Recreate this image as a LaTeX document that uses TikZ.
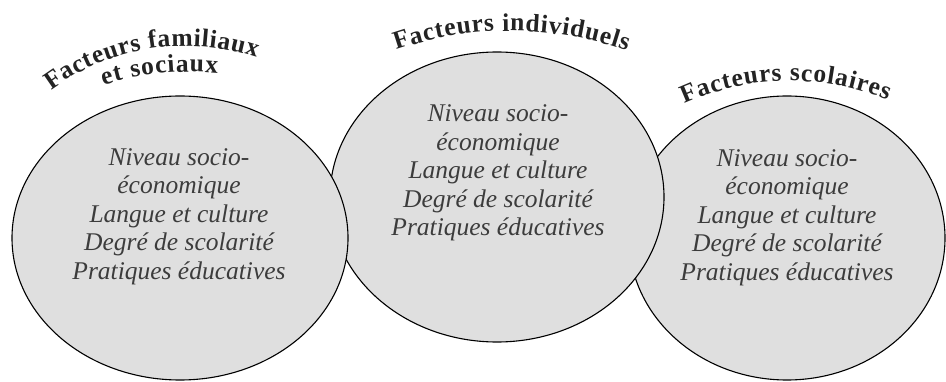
\documentclass[tikz,border=0pt]{standalone}
\usepackage{fontspec}
\setmainfont{Liberation Serif}
\usetikzlibrary{decorations.text}
\definecolor{ellfill}{RGB}{223,223,223}
\definecolor{bodytext}{RGB}{60,60,60}
\definecolor{titletext}{RGB}{35,35,35}
\newcommand{\ttlfont}{\fontsize{25.5}{29}\selectfont\bfseries}
\tikzset{
  ellstyle/.style={fill=ellfill, draw=black, line width=1.1pt},
  bodytxt/.style={align=center, inner sep=0pt, text=bodytext,
    font=\fontsize{25.5}{28.5}\selectfont\itshape},
  arctitle/.style={decorate, decoration={text along path, text align={fit to path},
    text color=titletext, text={|\ttlfont|#1}}}
}
\begin{document}
\begin{tikzpicture}[x=1pt,y=1pt]
\useasboundingbox (0,0) rectangle (946,-382);
% ellipses (right under middle under left)
\path[ellstyle] (787,-238) ellipse [x radius=158, y radius=142];
\path[ellstyle] (497,-197) ellipse [x radius=167, y radius=145];
\path[ellstyle] (180,-238) ellipse [x radius=168, y radius=142];
% body texts
\node[bodytxt] (tL) at (179,-216.5) {Niveau socio-\\économique\\Langue et culture\\Degré de scolarité\\Pratiques éducatives};
\node[bodytxt] (tM) at (498,-173) {Niveau socio-\\économique\\Langue et culture\\Degré de scolarité\\Pratiques éducatives};
\node[bodytxt] (tR) at (787,-217.5) {Niveau socio-\\économique\\Langue et culture\\Degré de scolarité\\Pratiques éducatives};
% arched titles
\path[arctitle={Facteurs familiaux}] (185,-271) ++(126.5:225) arc[start angle=126.5, end angle=71.5, radius=225];
\path[arctitle={et sociaux}] (190,-360) ++(107.5:288) arc[start angle=107.5, end angle=84.5, radius=288];
\path[arctitle={Facteurs individuels}] (510,-381) ++(109:350) arc[start angle=109, end angle=70.5, radius=350];
\path[arctitle={Facteurs scolaires}] (790,-336) ++(114.5:255) arc[start angle=114.5, end angle=67.5, radius=255];
\end{tikzpicture}
\end{document}
